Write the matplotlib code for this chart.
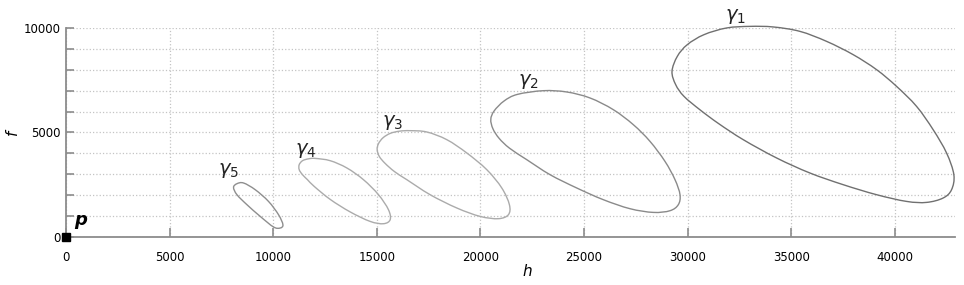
import matplotlib
matplotlib.use("Agg")
import numpy as np
import matplotlib.pyplot as plt
from matplotlib.path import Path
from matplotlib.patches import PathPatch
from matplotlib.ticker import MultipleLocator

# Traced outline points of each closed curve (h, f)
g1_h = [29242, 29498, 29980, 30785, 31880, 33004, 34128, 35415, 36703, 37986,
        39115, 40079, 41044, 41844, 42491, 42843, 42732, 42327, 41526, 40561,
        39115, 37504, 35898, 34292, 32681, 31500, 30600, 29821, 29420]
g1_f = [7924, 8642, 9202, 9680, 10001, 10077, 10049, 9838, 9359, 8723,
        8005, 7206, 6249, 5134, 4019, 2981, 2263, 1866, 1656, 1703,
        2024, 2503, 3062, 3780, 4656, 5420, 6080, 6728, 7288]

g2_h = [20498, 20657, 21139, 21781, 23034, 24163, 25287, 26411, 27375, 28181,
        28904, 29387, 29628, 29546, 29145, 28340, 27216, 25929, 24646, 23358,
        22234, 21400, 20900, 20600]
g2_f = [5627, 6029, 6508, 6823, 7000, 6938, 6651, 6091, 5374, 4574,
        3617, 2742, 2024, 1546, 1258, 1177, 1354, 1785, 2345, 2981,
        3699, 4250, 4720, 5180]

g3_h = [15014, 15080, 15300, 15650, 16100, 16606, 17411, 18376, 19340, 20305,
        21028, 21395, 21347, 20864, 19982, 18858, 17570, 16446, 15850, 15400,
        15120]
g3_f = [4180, 4470, 4750, 4960, 5065, 5087, 5024, 4656, 4019, 3220,
        2345, 1546, 1067, 876, 986, 1388, 2024, 2742, 3130, 3520,
        3850]

g4_h = [11252, 11252, 11411, 11700, 12024, 12747, 13553, 14353, 15077, 15559,
        15641, 15318, 14676, 13712, 12747, 11976, 11652, 11411]
g4_f = [3220, 3460, 3650, 3740, 3760, 3651, 3302, 2742, 2024, 1306,
        828, 636, 746, 1200, 1800, 2421, 2742, 2981]

g5_h = [8083, 8247, 8566, 9130, 9771, 10254, 10466, 10336, 10013, 9371,
        8730, 8247]
g5_f = [2373, 2550, 2584, 2263, 1703, 1067, 589, 431, 479, 986,
        1546, 2024]

curve_names = ["$\\gamma_1$", "$\\gamma_2$", "$\\gamma_3$", "$\\gamma_4$", "$\\gamma_5$"]
curves_h = [g1_h, g2_h, g3_h, g4_h, g5_h]
curves_f = [g1_f, g2_f, g3_f, g4_f, g5_f]

# Label anchor points
label_h = [32280, 22290, 15780, 11580, 7820]
label_f = [10530, 7420, 5460, 4160, 3160]

# Reference point p
p_h = [0]
p_f = [0]

curve_colors = ["#707070", "#8a8a8a", "#ababab", "#ababab", "#8e8e8e"]
axis_gray = "#8c8c8c"


def closed_smooth_path(xs, ys):
    # smooth closed outline through the traced points (Catmull-Rom as Bezier)
    pts = np.column_stack([xs, ys]).astype(float)
    n = len(pts)
    verts = [pts[0]]
    codes = [Path.MOVETO]
    for i in range(n):
        p0, p1, p2, p3 = pts[i - 1], pts[i], pts[(i + 1) % n], pts[(i + 2) % n]
        verts += [p1 + (p2 - p0) / 6.0, p2 - (p3 - p1) / 6.0, p2]
        codes += [Path.CURVE4] * 3
    return Path(verts, codes)


fig = plt.figure(figsize=(9.64, 2.85), dpi=100)
ax = fig.add_axes([0.0685, 0.1684, 0.9222, 0.7334])

for i in range(len(curve_names)):
    patch = PathPatch(closed_smooth_path(curves_h[i], curves_f[i]), fill=False,
                      edgecolor=curve_colors[i], linewidth=1.0, clip_on=False, zorder=3)
    ax.add_patch(patch)
    ax.text(label_h[i], label_f[i], curve_names[i], fontsize=14,
            ha="center", va="center", color="#222222")

ax.plot(p_h, p_f, marker="s", color="black", markersize=6, clip_on=False, zorder=5)
ax.text(400, 700, "$\\boldsymbol{p}$", fontsize=13, ha="left", va="center")

ax.set_xlim(0, 42900)
ax.set_ylim(0, 10000)

ax.xaxis.set_major_locator(MultipleLocator(5000))
ax.yaxis.set_major_locator(MultipleLocator(5000))
ax.yaxis.set_minor_locator(MultipleLocator(1000))

ax.grid(True, which="major", axis="x", linestyle=":", color="#c4c4c4", linewidth=0.9)
ax.grid(True, which="both", axis="y", linestyle=":", color="#c4c4c4", linewidth=0.9)

for s in ["top", "right"]:
    ax.spines[s].set_visible(False)
for s in ["left", "bottom"]:
    ax.spines[s].set_color(axis_gray)
    ax.spines[s].set_linewidth(1.3)

ax.tick_params(axis="x", which="major", direction="in", length=6.5, width=1.2,
               color=axis_gray, labelsize=8.5, pad=10)
ax.tick_params(axis="y", which="both", direction="in", length=5.5, width=1.2,
               color=axis_gray, labelsize=8.5, pad=4)

ax.set_xlabel("$h$", fontsize=11)
ax.xaxis.set_label_coords(0.519, -0.125)
ax.set_ylabel("$f$", fontsize=11, labelpad=2)

fig.savefig("out.png", dpi=100)
